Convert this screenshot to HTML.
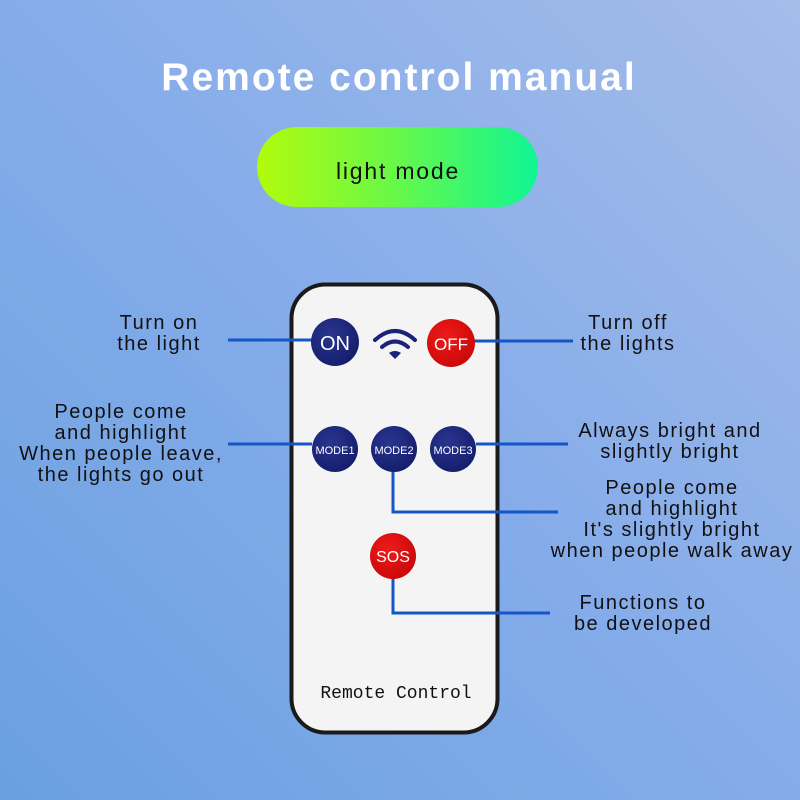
<!DOCTYPE html>
<html><head><meta charset="utf-8"><style>
html,body{margin:0;padding:0;width:800px;height:800px;overflow:hidden}
svg{display:block}
.t{font-family:"Liberation Sans",sans-serif;font-size:20px;fill:#111;letter-spacing:1.5px;text-anchor:middle}
.b{font-family:"Liberation Sans",sans-serif;font-weight:bold;fill:#fff;text-anchor:middle}
</style></head><body>
<svg width="800" height="800" viewBox="0 0 800 800" xmlns="http://www.w3.org/2000/svg">
<defs>
<linearGradient id="bg" x1="0" y1="1" x2="1" y2="0">
<stop offset="0" stop-color="#6aa0e0"/><stop offset="0.5" stop-color="#85acea"/><stop offset="1" stop-color="#a4bce8"/>
</linearGradient>
<linearGradient id="pill" x1="0" y1="0" x2="1" y2="0">
<stop offset="0" stop-color="#b2fb0c"/><stop offset="0.5" stop-color="#66f84a"/><stop offset="1" stop-color="#10f594"/>
</linearGradient>
<radialGradient id="blue" cx="0.4" cy="0.35" r="0.7"><stop offset="0" stop-color="#2a3590"/><stop offset="1" stop-color="#141d6a"/></radialGradient>
<radialGradient id="red" cx="0.4" cy="0.35" r="0.7"><stop offset="0" stop-color="#f01a1a"/><stop offset="1" stop-color="#c80808"/></radialGradient>
</defs>
<rect width="800" height="800" fill="url(#bg)"/>
<text x="399" y="90" class="b" style="font-size:39px;letter-spacing:2px">Remote control manual</text>
<rect x="257" y="127" width="281" height="80" rx="40" fill="url(#pill)"/>
<text x="398" y="179" class="t" style="font-size:23px;letter-spacing:1.8px">light mode</text>

<rect x="291.5" y="284.5" width="206" height="448" rx="34" fill="#f4f4f4" stroke="#1a1a1a" stroke-width="4"/>

<g stroke="#1556c6" stroke-width="3" fill="none">
<line x1="228" y1="340" x2="312" y2="340"/>
<line x1="473" y1="341" x2="573" y2="341"/>
<line x1="228" y1="444" x2="312" y2="444"/>
<line x1="476" y1="444" x2="568" y2="444"/>
<polyline points="393,470 393,512 558,512"/>
<polyline points="393,578 393,613 550,613"/>
</g>

<circle cx="335" cy="342" r="24" fill="url(#blue)"/>
<text x="335" y="350" class="b" style="font-size:20px;font-weight:normal">ON</text>
<circle cx="451" cy="343" r="24" fill="url(#red)"/>
<text x="451" y="350" class="b" style="font-size:17px;font-weight:normal">OFF</text>
<g fill="none" stroke="#1a237a" stroke-width="4" stroke-linecap="round">
<path d="M375 340 Q395 322 415 340"/>
<path d="M382 347 Q395 336 408 347"/>
</g>
<path d="M389 353 L395 359 L401 353 Q395 349 389 353Z" fill="#1a237a"/>

<circle cx="335" cy="449" r="23" fill="url(#blue)"/>
<text x="335" y="454" class="b" style="font-size:11px;font-weight:normal">MODE1</text>
<circle cx="394" cy="449" r="23" fill="url(#blue)"/>
<text x="394" y="454" class="b" style="font-size:11px;font-weight:normal">MODE2</text>
<circle cx="453" cy="449" r="23" fill="url(#blue)"/>
<text x="453" y="454" class="b" style="font-size:11px;font-weight:normal">MODE3</text>
<circle cx="393" cy="556" r="23" fill="url(#red)"/>
<text x="393" y="562" class="b" style="font-size:16px;font-weight:normal">SOS</text>

<text x="396" y="698" style="font-family:'Liberation Mono',monospace;font-size:18px;fill:#111;text-anchor:middle">Remote Control</text>

<text class="t" x="159" y="329">Turn on</text>
<text class="t" x="159" y="350">the light</text>
<text class="t" x="121" y="418">People come</text>
<text class="t" x="121" y="439">and highlight</text>
<text class="t" x="121" y="460">When people leave,</text>
<text class="t" x="121" y="481">the lights go out</text>
<text class="t" x="628" y="329">Turn off</text>
<text class="t" x="628" y="350">the lights</text>
<text class="t" x="670" y="437">Always bright and</text>
<text class="t" x="670" y="458">slightly bright</text>
<text class="t" x="672" y="494">People come</text>
<text class="t" x="672" y="515">and highlight</text>
<text class="t" x="672" y="536">It's slightly bright</text>
<text class="t" x="672" y="557">when people walk away</text>
<text class="t" x="643" y="609">Functions to</text>
<text class="t" x="643" y="630">be developed</text>
</svg>
</body></html>
